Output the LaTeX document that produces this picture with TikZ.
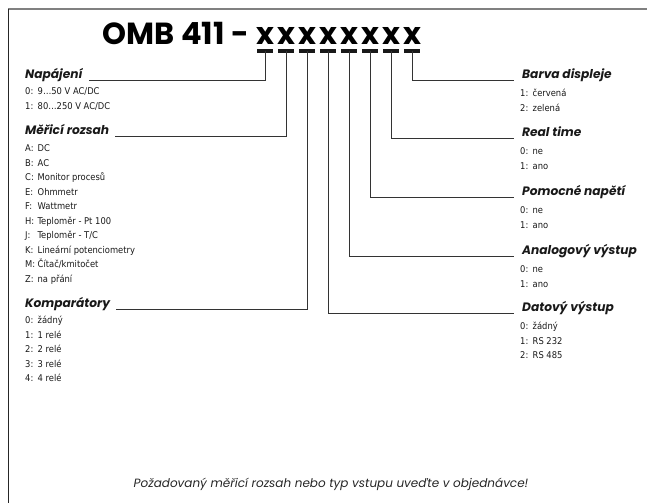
\documentclass[tikz,border=0pt]{standalone}
\usepackage{fontspec}
\setmainfont{Poppins}
\newfontfamily\condfont{DejaVu Sans Condensed}
\tikzset{
  topline/.style={black!50, line width=1.8pt},
  sideline/.style={black!85, line width=1pt},
  conn/.style={black!80, line width=0.9pt},
  codedash/.style={black!90, line width=3.2pt},
  code/.style={anchor=base, inner sep=0pt, font=\bfseries\fontsize{30.5}{32}\selectfont},
  head/.style={anchor=base west, inner sep=0pt, text=black!90, font=\bfseries\itshape\fontsize{12.2}{14}\selectfont},
  item/.style={anchor=base west, inner sep=0pt, text=black!90, font=\condfont\fontsize{9.3}{11}\selectfont},
}
\newcommand{\itm}[2]{\makebox[12.5pt][l]{#1:}#2}

\begin{document}
\begin{tikzpicture}[x=1pt,y=-1pt]
    \useasboundingbox (0,0) rectangle (647,503);
    \draw[topline] (8,9) -- (647,9);
    \draw[sideline] (8,9) -- (8,503);

    \node[code, anchor=base east] (omb) at (249,45) {OMB 411 -};
    \foreach \i in {1,...,8} {
      \node[code] (x\i) at ({244+21*\i},45) {x};
      \coordinate (d\i) at ({244+21*\i},51);
      \draw[codedash] ([xshift=-8pt]d\i) -- ([xshift=8pt]d\i);
    }

    \node[head] (nap) at (25,78.5) {Napájení};
    \foreach \lab/\txt [count=\k] in {0/{9…50 V AC/DC}, 1/{80…250 V AC/DC}}
      \node[item] (nap-\k) at (25,{80+14.5*\k}) {\itm{\lab}{\txt}};

    \node[head] (rozsah) at (25,134.5) {Měřicí rozsah};
    \foreach \lab/\txt [count=\k] in {A/DC, B/AC, C/{Monitor procesů}, E/Ohmmetr,
      F/Wattmetr, H/{Teploměr - Pt 100}, J/{Teploměr - T/C},
      K/{Lineární potenciometry}, M/{Čítač/kmitočet}, Z/{na přání}}
      \node[item] (rozsah-\k) at (25,{137+14.5*\k}) {\itm{\lab}{\txt}};

    \node[head] (komp) at (25,307.5) {Komparátory};
    \foreach \lab/\txt [count=\k] in {0/žádný, 1/{1 relé}, 2/{2 relé}, 3/{3 relé}, 4/{4 relé}}
      \node[item] (komp-\k) at (25,{309+14.5*\k}) {\itm{\lab}{\txt}};

    \node[head] (barva) at (522,78.5) {Barva displeje};
    \foreach \lab/\txt [count=\k] in {1/červená, 2/zelená}
      \node[item] (barva-\k) at (520,{82+14.5*\k}) {\itm{\lab}{\txt}};

    \node[head] (real) at (522,136.5) {Real time};
    \foreach \lab/\txt [count=\k] in {0/ne, 1/ano}
      \node[item] (real-\k) at (520,{140+14.5*\k}) {\itm{\lab}{\txt}};

    \node[head] (pomoc) at (522,195.5) {Pomocné napětí};
    \foreach \lab/\txt [count=\k] in {0/ne, 1/ano}
      \node[item] (pomoc-\k) at (520,{199+14.5*\k}) {\itm{\lab}{\txt}};

    \node[head] (analog) at (522,254.5) {Analogový výstup};
    \foreach \lab/\txt [count=\k] in {0/ne, 1/ano}
      \node[item] (analog-\k) at (520,{258+14.5*\k}) {\itm{\lab}{\txt}};

    \node[head] (dat) at (522,311.5) {Datový výstup};
    \foreach \lab/\txt [count=\k] in {0/žádný, 1/{RS 232}, 2/{RS 485}}
      \node[item] (dat-\k) at (520,{315+14.5*\k}) {\itm{\lab}{\txt}};

    \draw[conn] (d1) |- ([xshift=6pt,yshift=-1.5pt]nap.base east);
    \draw[conn] (d2) |- ([xshift=6pt,yshift=-1.5pt]rozsah.base east);
    \draw[conn] (d3) |- ([xshift=6pt,yshift=-1.5pt]komp.base east);
    \draw[conn] (d4) |- ([xshift=-8pt,yshift=-1.5pt]dat.base west);
    \draw[conn] (d5) |- ([xshift=-8pt,yshift=-1.5pt]analog.base west);
    \draw[conn] (d6) |- ([xshift=-8pt,yshift=-1.5pt]pomoc.base west);
    \draw[conn] (d7) |- ([xshift=-8pt,yshift=-1.5pt]real.base west);
    \draw[conn] (d8) |- ([xshift=-8pt,yshift=-1.5pt]barva.base west);

    \node[anchor=base, inner sep=0pt, text=black!85, font=\itshape\fontsize{12}{14}\selectfont] (note) at (331,487)
      {Požadovaný měřicí rozsah nebo typ vstupu uveďte v objednávce!};
\end{tikzpicture}
\end{document}
